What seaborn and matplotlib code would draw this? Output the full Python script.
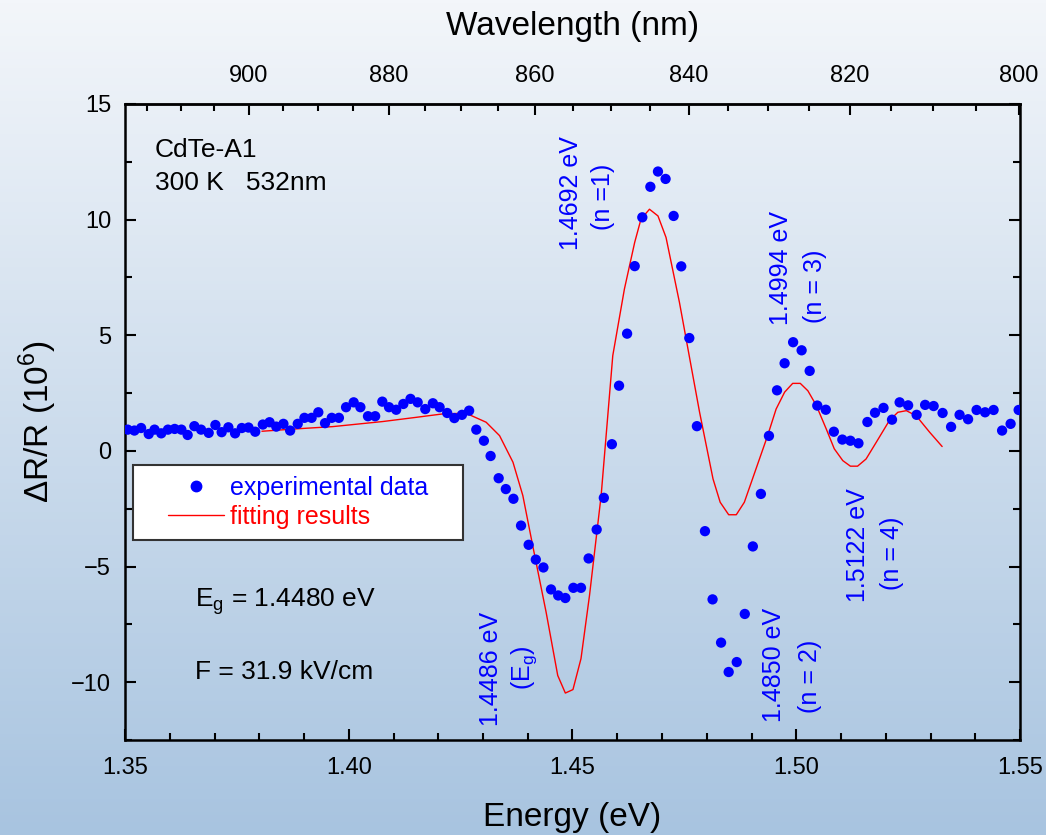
import numpy as np
import pandas as pd
import matplotlib
matplotlib.use("Agg")
import matplotlib.pyplot as plt
import seaborn as sns
from matplotlib.lines import Line2D
from matplotlib.patches import Rectangle

# ---------------- data ----------------
exp_energy = [1.3506, 1.3521, 1.3536, 1.3553, 1.3566, 1.3581, 1.3596, 1.3611, 1.3626, 1.3640,
              1.3655, 1.3670, 1.3687, 1.3702, 1.3716, 1.3731, 1.3746, 1.3761, 1.3776, 1.3791,
              1.3808, 1.3823, 1.3838, 1.3854, 1.3869, 1.3886, 1.3901, 1.3917, 1.3932, 1.3947,
              1.3962, 1.3978, 1.3994, 1.4011, 1.4026, 1.4043, 1.4059, 1.4075, 1.4090, 1.4106,
              1.4122, 1.4138, 1.4154, 1.4171, 1.4188, 1.4203, 1.4220, 1.4236, 1.4253, 1.4269,
              1.4285, 1.4302, 1.4317, 1.4335, 1.4351, 1.4368, 1.4385, 1.4402, 1.4418, 1.4435,
              1.4452, 1.4468, 1.4484, 1.4502, 1.4519, 1.4536, 1.4554, 1.4570, 1.4588, 1.4604,
              1.4622, 1.4639, 1.4656, 1.4674, 1.4691, 1.4708, 1.4726, 1.4743, 1.4761, 1.4778,
              1.4796, 1.4813, 1.4832, 1.4849, 1.4867, 1.4885, 1.4903, 1.4921, 1.4939, 1.4957,
              1.4974, 1.4993, 1.5012, 1.5030, 1.5047, 1.5066, 1.5084, 1.5103, 1.5121, 1.5139,
              1.5159, 1.5176, 1.5195, 1.5214, 1.5231, 1.5250, 1.5269, 1.5288, 1.5307, 1.5327,
              1.5346, 1.5365, 1.5384, 1.5403, 1.5422, 1.5441, 1.5460, 1.5479, 1.5497]
exp_signal = [0.92, 0.88, 0.99, 0.73, 0.92, 0.76, 0.92, 0.95, 0.92, 0.69,
              1.07, 0.92, 0.78, 1.12, 0.81, 1.02, 0.76, 0.99, 1.01, 0.83,
              1.14, 1.24, 1.05, 1.17, 0.88, 1.17, 1.43, 1.43, 1.67, 1.20,
              1.43, 1.43, 1.89, 2.10, 1.89, 1.50, 1.50, 2.13, 1.89, 1.78,
              2.03, 2.25, 2.10, 1.81, 2.06, 1.89, 1.64, 1.42, 1.56, 1.74,
              0.92, 0.44, -0.22, -1.18, -1.65, -2.07, -3.23, -4.06, -4.70, -5.04,
              -5.99, -6.25, -6.36, -5.92, -5.92, -4.65, -3.40, -2.03, 0.29, 2.82,
              5.07, 7.99, 10.10, 11.42, 12.08, 11.76, 10.16, 7.98, 4.88, 1.07,
              -3.47, -6.42, -8.29, -9.56, -9.13, -7.05, -4.13, -1.86, 0.65, 2.62,
              3.79, 4.70, 4.35, 3.46, 1.96, 1.78, 0.83, 0.49, 0.44, 0.33,
              1.25, 1.65, 1.86, 1.35, 2.10, 1.97, 1.56, 1.99, 1.94, 1.64,
              1.04, 1.56, 1.37, 1.77, 1.67, 1.77, 0.88, 1.17, 1.77]

fit_energy = [1.3806, 1.3880, 1.3964, 1.4076, 1.4150, 1.4210, 1.4262, 1.4307, 1.4337, 1.4367,
              1.4389, 1.4411, 1.4441, 1.4467, 1.4484, 1.4501, 1.4519, 1.4538, 1.4564, 1.4590,
              1.4616, 1.4639, 1.4653, 1.4672, 1.4691, 1.4709, 1.4739, 1.4769, 1.4784, 1.4814,
              1.4830, 1.4849, 1.4866, 1.4884, 1.4910, 1.4936, 1.4955, 1.4974, 1.4992, 1.5009,
              1.5026, 1.5045, 1.5067, 1.5085, 1.5104, 1.5121, 1.5137, 1.5156, 1.5179, 1.5208,
              1.5227, 1.5246, 1.5268, 1.5298, 1.5326]
fit_signal = [0.85, 0.95, 1.05, 1.27, 1.45, 1.60, 1.63, 1.24, 0.66, -0.49,
              -1.93, -4.09, -6.97, -9.71, -10.47, -10.32, -8.98, -6.25, -1.93, 4.12,
              7.00, 9.02, 10.02, 10.45, 10.16, 9.23, 6.42, 3.25, 1.67, -1.21,
              -2.22, -2.76, -2.76, -2.22, -0.78, 0.66, 1.81, 2.54, 2.92, 2.92,
              2.60, 1.96, 0.95, 0.09, -0.42, -0.66, -0.66, -0.35, 0.38, 1.31,
              1.67, 1.74, 1.52, 0.81, 0.19]

energy_ticks = [1.35, 1.40, 1.45, 1.50, 1.55]
signal_ticks = [-10, -5, 0, 5, 10, 15]
wavelength_ticks = [900, 880, 860, 840, 820, 800]
wavelength_minor = list(range(915, 799, -5))

peak_labels = ["1.4692 eV", "1.4994 eV", "1.5122 eV", "1.4850 eV", "1.4486 eV"]
peak_orders = ["(n =1)", "(n = 3)", "(n = 4)", "(n = 2)", r"(E$_\mathregular{g}$)"]

exp_df = pd.DataFrame({"energy": exp_energy, "signal": exp_signal})
fit_df = pd.DataFrame({"energy": fit_energy, "signal": fit_signal})

# ---------------- style ----------------
sns.set_theme(style="ticks")
plt.rcParams["font.family"] = ["Liberation Sans", "DejaVu Sans"]
plt.rcParams["mathtext.fontset"] = "custom"
plt.rcParams["mathtext.rm"] = "Liberation Sans"
for k in ["text.color", "axes.labelcolor", "xtick.color", "ytick.color",
          "xtick.labelcolor", "ytick.labelcolor"]:
    plt.rcParams[k] = "black"

W, H = 1046, 835
fig = plt.figure(figsize=(W / 100, H / 100), dpi=100)

# gradient background
bg = fig.add_axes([0, 0, 1, 1], zorder=-10)
top = np.array([243, 246, 250]) / 255
bot = np.array([168, 196, 224]) / 255
t = np.linspace(0, 1, 256)[:, None]
grad = top[None, None, :] * (1 - t[..., None]) + bot[None, None, :] * t[..., None]
grad = np.repeat(grad, 2, axis=1)
bg.imshow(grad, aspect="auto", extent=[0, 1, 0, 1], origin="upper")
bg.set_axis_off()

left, right = 125 / W, 1020 / W
bottom, topf = 1 - 740 / H, 1 - 104 / H
ax = fig.add_axes([left, bottom, right - left, topf - bottom])
ax.set_facecolor("none")

blue = "#0000ff"
red = "#ff0000"
sns.lineplot(data=fit_df, x="energy", y="signal", ax=ax, color=red, lw=1.0,
             sort=False, estimator=None, zorder=2)
sns.scatterplot(data=exp_df, x="energy", y="signal", ax=ax, color=blue, s=55,
                edgecolor="none", zorder=3)

ax.set_xlim(1.35, 1.55)
ax.set_ylim(-12.45, 15)
ax.set_xticks(energy_ticks)
ax.set_xticklabels([f"{v:.2f}" for v in energy_ticks])
ax.set_xticks(np.arange(1.36, 1.55, 0.01), minor=True)
ax.set_yticks(signal_ticks)
ax.set_yticks(np.arange(-12.5, 15.1, 2.5), minor=True)
ax.tick_params(which="both", direction="in", top=False, right=True, width=1.5,
               labelsize=17, colors="black")
ax.tick_params(which="major", length=8)
ax.tick_params(which="minor", length=5)
ax.tick_params(axis="x", pad=12)
ax.tick_params(axis="y", pad=10)
for sp in ax.spines.values():
    sp.set_linewidth(1.8)
    sp.set_color("black")

ax.set_xlabel("Energy (eV)", fontsize=24, labelpad=17)
ax.set_ylabel(r"$\Delta$R/R (10$^\mathregular{6}$)", fontsize=24, labelpad=9)


def e2l(x):
    x = np.asarray(x, dtype=float)
    with np.errstate(divide="ignore", invalid="ignore"):
        return 1239.84 / x


secax = ax.secondary_xaxis("top", functions=(e2l, e2l))
secax.set_xticks(wavelength_ticks)
secax.set_xticklabels([str(v) for v in wavelength_ticks])
secax.set_xticks(wavelength_minor, minor=True)
secax.tick_params(which="both", direction="in", width=1.5, labelsize=17, pad=12,
                  colors="black")
secax.tick_params(which="major", length=8)
secax.tick_params(which="minor", length=5)
secax.spines["top"].set_linewidth(1.8)
secax.set_xlabel("Wavelength (nm)", fontsize=24, labelpad=22)

# legend box + entries
box = Rectangle((0.0089, 0.3145), 0.3688, 0.1179, transform=ax.transAxes,
                facecolor="white", edgecolor="#333333", lw=1.5, zorder=5)
ax.add_patch(box)
handles = [Line2D([], [], ls="none", marker="o", color=blue, markersize=7.5),
           Line2D([], [], color=red, lw=1.0)]
leg = ax.legend(handles, ["experimental data", "fitting results"], loc="center left",
                bbox_to_anchor=(0.048, 0.3735), fontsize=18, frameon=False,
                handlelength=2.25, handletextpad=0.25, borderpad=0,
                labelspacing=0.22, borderaxespad=0)
leg.set_zorder(6)
for txt, c in zip(leg.get_texts(), [blue, red]):
    txt.set_color(c)

# annotations
ax.text(0.0335, 0.928, "CdTe-A1", transform=ax.transAxes, fontsize=19, va="center")
ax.text(0.0335, 0.876, "300 K   532nm", transform=ax.transAxes, fontsize=19, va="center")
ax.text(0.078, 0.217, r"E$_\mathregular{g}$ = 1.4480 eV", transform=ax.transAxes,
        fontsize=19, va="center")
ax.text(0.078, 0.107, "F = 31.9 kV/cm", transform=ax.transAxes, fontsize=19, va="center")

label_pos = [(1.4496, 11.14), (1.4967, 7.90), (1.5137, -4.06), (1.4951, -9.24), (1.4317, -9.42)]
order_pos = [(1.4569, 10.97), (1.5041, 7.13), (1.5213, -4.41), (1.5030, -9.76), (1.4393, -9.37)]
for lab, (x, y) in zip(peak_labels, label_pos):
    ax.text(x, y, lab, rotation=90, color=blue, fontsize=18, ha="center", va="center")
for lab, (x, y) in zip(peak_orders, order_pos):
    ax.text(x, y, lab, rotation=90, color=blue, fontsize=18, ha="center", va="center")

fig.savefig("out.png", dpi=100)
